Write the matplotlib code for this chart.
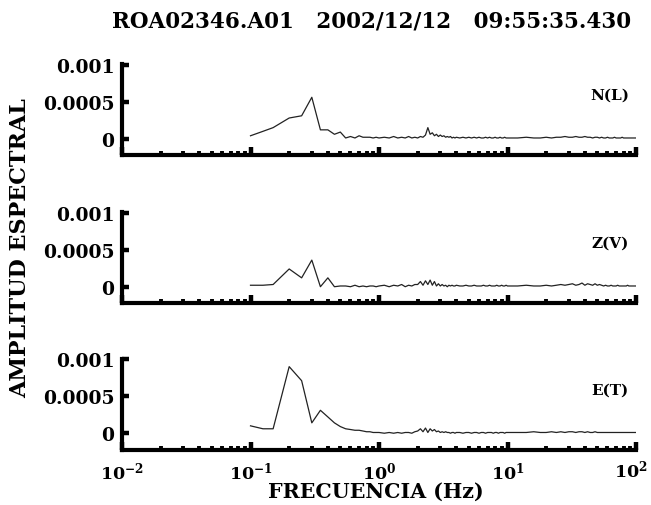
import matplotlib
matplotlib.use("Agg")
import matplotlib.pyplot as plt
from matplotlib.ticker import FixedLocator, FixedFormatter, LogLocator, NullFormatter

plt.rcParams['font.family'] = ['DejaVu Serif']
plt.rcParams['font.weight'] = 'bold'
plt.rcParams['mathtext.fontset'] = 'dejavuserif'

title = "ROA02346.A01   2002/12/12   09:55:35.430"
xlabel = "FRECUENCIA (Hz)"
ylabel = "AMPLITUD ESPECTRAL"
components = ["N(L)", "Z(V)", "E(T)"]
ytick_vals = [0, 0.0005, 0.001]
ytick_labels = ["0", "0.0005", "0.001"]
xtick_vals = [0.01, 0.1, 1, 10, 100]
xtick_labels = [r"$\mathbf{10^{-2}}$", r"$\mathbf{10^{-1}}$", r"$\mathbf{10^{0}}$",
                r"$\mathbf{10^{1}}$", r"$\mathbf{10^{2}}$"]

UNIT = 1e-5  # amplitudes below are in units of 1e-5

freq = [0.1, 0.125, 0.15, 0.2, 0.25, 0.3, 0.35, 0.4, 0.45, 0.5,
        0.55, 0.6, 0.65, 0.7, 0.75, 0.8, 0.85, 0.9, 0.95, 1.0,
        1.1, 1.2, 1.3, 1.4, 1.5, 1.6, 1.7, 1.8, 1.9, 2.0,
        2.1, 2.2, 2.3, 2.4, 2.5, 2.6, 2.7, 2.8, 2.9, 3.0,
        3.1, 3.2, 3.3, 3.4, 3.5, 3.6, 3.7, 3.8, 3.9, 4.0,
        4.25, 4.5, 4.75, 5.0, 5.25, 5.5, 5.75, 6.0, 6.25, 6.5, 6.75, 7.0,
        7.25, 7.5, 7.75, 8.0, 8.25, 8.5, 8.75, 9.0, 9.25, 9.5, 9.75, 10.0,
        12, 14, 16, 18, 20, 22, 24, 26, 28, 30, 32, 34, 36, 38, 40,
        42, 44, 46, 48, 50, 52, 54, 56, 58, 60, 62, 64, 66, 68, 70,
        72, 74, 76, 78, 80, 82, 84, 86, 88, 90, 92, 94, 96, 98, 100]

amp_n = [4, 10, 15, 28, 31, 56, 12, 12, 6, 9, 1, 3, 1, 4, 2, 2, 2, 1, 2, 1,
         2, 1, 3, 1, 2, 1, 3, 1, 2, 1, 3, 2, 5, 15, 6, 8, 4, 6, 3, 5,
         3, 4, 2, 3, 2, 3, 1, 2, 1, 2,
         1, 2, 1, 2, 1, 2, 1, 2, 1, 1, 2, 1, 2, 1, 1, 2, 1, 1, 2, 1, 1, 2, 1, 1,
         1, 2, 1, 1, 2, 1, 2, 2, 3, 2, 2, 3, 2, 2, 3, 2, 2, 1, 2, 2, 1, 2, 1, 1,
         2, 1, 1, 1, 2, 1, 1, 1, 1, 2, 1, 1, 1, 1, 1, 1, 1, 1, 1, 1, 1]

amp_z = [2, 2, 3, 24, 12, 36, 0, 12, 0, 1, 1, 0, 2, 0, 1, 0, 1, 1, 0, 1,
         2, 0, 2, 1, 3, 0, 2, 1, 3, 3, 7, 2, 8, 3, 9, 2, 7, 1, 4, 1,
         3, 1, 2, 0, 2, 1, 2, 1, 1, 2,
         1, 1, 2, 1, 1, 2, 1, 1, 1, 2, 1, 1, 2, 1, 1, 1, 2, 1, 1, 2, 1, 1, 2, 1,
         1, 2, 1, 1, 2, 1, 2, 3, 2, 3, 4, 2, 3, 5, 2, 4, 3, 2, 4, 2, 3, 2, 1, 2,
         1, 1, 2, 1, 1, 1, 2, 1, 1, 1, 1, 1, 1, 2, 1, 1, 1, 1, 1, 1, 1]

amp_e = [10, 6, 6, 90, 71, 14, 31, 22, 14, 9, 6, 5, 4, 4, 3, 2, 2, 1, 1, 1,
         0, 1, 0, 1, 0, 1, 1, 0, 2, 3, 6, 2, 7, 1, 6, 3, 5, 2, 3, 1,
         2, 1, 2, 1, 1, 0, 1, 1, 0, 1,
         1, 0, 1, 1, 0, 1, 1, 0, 1, 1, 0, 1, 1, 1, 0, 1, 1, 0, 1, 1, 1, 0, 1, 1,
         1, 1, 2, 1, 1, 2, 1, 2, 1, 2, 2, 1, 2, 2, 1, 2, 1, 1, 2, 1, 1, 1, 1, 1,
         1, 1, 1, 1, 1, 1, 1, 1, 1, 1, 1, 1, 1, 1, 1, 1, 1, 1, 1, 1, 1]

series = [amp_n, amp_z, amp_e]

W, H = 651, 506
fig = plt.figure(figsize=(W / 100, H / 100), dpi=100)

left = 122 / W
width = 514 / W
height = 91 / H
bottoms = [(H - 156) / H, (H - 304) / H, (H - 450.5) / H]

axes = []
for i, (amp, comp, b) in enumerate(zip(series, components, bottoms)):
    ax = fig.add_axes([left, b, width, height])
    ax.plot(freq, [v * UNIT for v in amp], color='#222222', lw=0.9)
    ax.set_xscale('log')
    ax.set_xlim(0.01, 100)
    ax.set_ylim(-0.00022, 0.00101)
    for s in ['top', 'right']:
        ax.spines[s].set_visible(False)
    for s in ['left', 'bottom']:
        ax.spines[s].set_linewidth(3)
    ax.yaxis.set_major_locator(FixedLocator(ytick_vals))
    ax.yaxis.set_major_formatter(FixedFormatter(ytick_labels))
    ax.xaxis.set_major_locator(FixedLocator(xtick_vals))
    ax.xaxis.set_minor_locator(LogLocator(base=10, subs=range(2, 10), numticks=20))
    ax.xaxis.set_minor_formatter(NullFormatter())
    if i == 2:
        # last label drawn separately so it can sit slightly left of its tick
        ax.xaxis.set_major_formatter(FixedFormatter(xtick_labels[:-1] + [""]))
        ax.annotate(xtick_labels[-1], xy=(xtick_vals[-1], 0),
                    xycoords=('data', 'axes fraction'),
                    xytext=(-4, -14.5), textcoords='offset points',
                    ha='center', va='center', fontsize=12.5)
    else:
        ax.xaxis.set_major_formatter(NullFormatter())
    ax.tick_params(axis='x', which='major', direction='in', length=6, width=3.2, pad=8, labelsize=12.5)
    ax.tick_params(axis='x', which='minor', direction='in', length=3, width=2.8)
    ax.tick_params(axis='y', which='major', direction='in', length=5, width=3.2, pad=5.5, labelsize=13.5)
    for lab in ax.get_yticklabels():
        lab.set_fontweight('bold')
    ax.text(0.949, 0.66, comp, transform=ax.transAxes, ha='center', va='center',
            fontsize=11, fontweight='bold')
    axes.append(ax)

fig.text(372 / W, 1 - 21 / H, title, ha='center', va='center', fontsize=15.5, fontweight='bold')
fig.text(376 / W, 1 - 492 / H, xlabel, ha='center', va='center', fontsize=14.8, fontweight='bold')
fig.text(20 / W, 1 - 248 / H, ylabel, ha='center', va='center', rotation=90,
         fontsize=16, fontweight='bold')

fig.savefig("out.png", dpi=100)
